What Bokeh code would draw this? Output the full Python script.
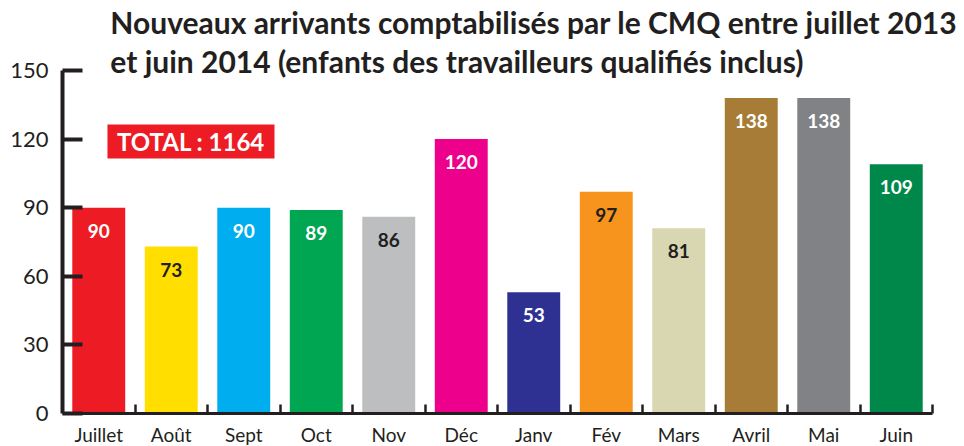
from bokeh.plotting import figure
from bokeh.models import Range1d, FixedTicker, Label, ColumnDataSource, BoxAnnotation
from bokeh.embed import file_html
from bokeh.resources import INLINE
from bokeh.core.properties import value

months = ["Juillet", "Août", "Sept", "Oct", "Nov", "Déc", "Janv", "Fév", "Mars", "Avril", "Mai", "Juin"]
arrivals = [90, 73, 90, 89, 86, 120, 53, 97, 81, 138, 138, 109]
colors = ["#ED1C24", "#FFDE00", "#00AEEF", "#00A651", "#BCBEC0", "#EC008C",
          "#2E3192", "#F7941D", "#D8D7B2", "#A67C37", "#808285", "#00884A"]
label_colors = ["white", "#231f20", "white", "white", "#231f20", "white",
                "white", "#231f20", "#231f20", "white", "white", "white"]
y_ticks = [0, 30, 60, 90, 120, 150]
title_lines = ["Nouveaux arrivants comptabilisés par le CMQ entre juillet 2013",
               "et juin 2014 (enfants des travailleurs qualifiés inclus)"]
total_text = "TOTAL : 1164"

FONT = "Lato"
DARK = "#231f20"

xs = [i + 0.5 for i in range(len(months))]
src = ColumnDataSource(dict(x=xs, top=arrivals, color=colors,
                            lab=[str(v) for v in arrivals], lcolor=label_colors))

p = figure(frame_width=900, frame_height=413, output_backend="svg", toolbar_location=None,
           x_range=Range1d(0, 900 / 72.5), y_range=Range1d(0, 413 / (343 / 150)),
           min_border_left=62, min_border_right=0, min_border_top=0, min_border_bottom=33)
p.outline_line_color = None
p.xgrid.grid_line_color = None
p.ygrid.grid_line_color = None
p.background_fill_color = "white"
p.border_fill_color = "white"

p.vbar(x="x", top="top", bottom=0, width=0.73, fill_color="color", line_color=None, source=src)
p.text(x="x", y="top", text="lab", text_color="lcolor", source=src,
       text_align="center", text_baseline="middle", y_offset=23,
       text_font=value(FONT), text_font_style="bold", text_font_size="19px")

# y axis
ya = p.yaxis[0]
ya.ticker = FixedTicker(ticks=y_ticks)
ya.bounds = (0, 150)
ya.axis_line_color = DARK
ya.axis_line_width = 4
ya.major_tick_in = 20
ya.major_tick_out = 0
ya.major_tick_line_color = DARK
ya.major_tick_line_width = 4
ya.minor_tick_line_color = None
ya.major_label_text_font = FONT
ya.major_label_text_font_size = "22px"
ya.major_label_text_color = DARK
ya.major_label_standoff = 14

# x axis
xa = p.xaxis[0]
xa.ticker = FixedTicker(ticks=xs, minor_ticks=list(range(1, len(months) + 1)))
xa.major_label_overrides = {x: m for x, m in zip(xs, months)}
xa.bounds = (0, 12)
xa.axis_line_color = DARK
xa.axis_line_width = 3
xa.major_tick_line_color = None
xa.major_tick_in = 0
xa.major_tick_out = 0
xa.minor_tick_in = 9
xa.minor_tick_out = 0
xa.minor_tick_line_color = DARK
xa.minor_tick_line_width = 2.5
xa.major_label_text_font = FONT
xa.major_label_text_font_size = "19px"
xa.major_label_text_color = DARK
xa.major_label_standoff = 9

# title
p.add_layout(Label(x=0.66, y=171.4, text=title_lines[0], text_font=FONT, text_font_style="bold",
                   text_font_size="30px", text_color=DARK, text_baseline="alphabetic"))
p.add_layout(Label(x=0.66, y=154.3, text=title_lines[1], text_font=FONT, text_font_style="bold",
                   text_font_size="30px", text_color=DARK, text_baseline="alphabetic"))

# total box
p.add_layout(BoxAnnotation(left=0.62, right=2.924, bottom=111.5, top=126.4,
                           fill_color="#ED1C24", fill_alpha=1.0, line_color=None, level="annotation"))
p.add_layout(Label(x=1.772, y=118.9, text=total_text, text_font=FONT, text_font_style="bold",
                   text_font_size="24px", text_color="white", text_baseline="middle",
                   text_align="center"))

open("out.html", "w").write(file_html(p, INLINE))
